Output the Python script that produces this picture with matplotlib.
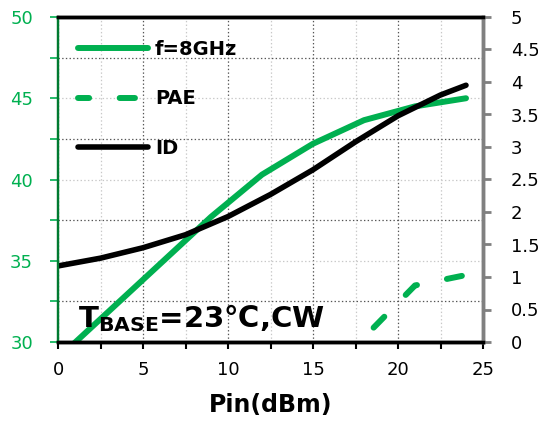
import numpy as np
import matplotlib
matplotlib.use('Agg')
import matplotlib.pyplot as plt
from matplotlib.ticker import MultipleLocator, FuncFormatter

# Data
pin = [0, 3, 6, 9, 12, 15, 18, 21, 24]
pout = [29.0, 31.9, 34.8, 37.7, 40.3, 42.2, 43.65, 44.5, 45.0]   # f=8GHz, left axis
pin_id = [0, 2.5, 5, 7.5, 10, 12.5, 15, 17.5, 20, 22.5, 24]
idrain = [1.17, 1.29, 1.45, 1.65, 1.93, 2.27, 2.65, 3.08, 3.48, 3.8, 3.95]  # ID, right axis
pin_pae = [15, 18, 21, 24]
pae = [-0.75, 0.07, 0.87, 1.03]                                   # PAE, right axis

GREEN = '#00B050'

plt.rcParams['font.family'] = ['DejaVu Sans']
plt.rcParams['lines.scale_dashes'] = False

fig = plt.figure(figsize=(5.38, 4.23), dpi=100)
ax1 = fig.add_axes([58/538, 81/423, 425/538, 325/423])
ax2 = ax1.twinx()

# left axis: output power
l1, = ax1.plot(pin, pout, color=GREEN, lw=4.3, solid_capstyle='round',
               solid_joinstyle='round', label='f=8GHz')
ax1.set_xlim(0, 25)
ax1.set_ylim(30, 50)
ax1.xaxis.set_major_locator(MultipleLocator(5))
ax1.xaxis.set_minor_locator(MultipleLocator(2.5))
ax1.yaxis.set_major_locator(MultipleLocator(5))
ax1.yaxis.set_minor_locator(MultipleLocator(2.5))

# excel style grid: alternating dark / light dotted lines
ax1.grid(which='major', axis='x', color='#555555', ls=':', lw=0.9)
ax1.grid(which='minor', axis='x', color='#c8c8c8', ls=':', lw=0.9)
ax1.grid(which='major', axis='y', color='#c8c8c8', ls=':', lw=0.9)
ax1.grid(which='minor', axis='y', color='#555555', ls=':', lw=0.9)
ax1.set_axisbelow(True)

# right axis: PAE and drain current
l2, = ax2.plot(pin_pae, pae, color=GREEN, lw=4.3, dash_capstyle='round',
               ls=(3, (11, 22)), label='PAE')
l3, = ax2.plot(pin_id, idrain, color='black', lw=4.0, solid_capstyle='round',
               solid_joinstyle='round', label='ID')
ax2.set_ylim(0, 5)
ax2.yaxis.set_major_locator(MultipleLocator(0.5))
ax2.yaxis.set_major_formatter(FuncFormatter(lambda v, p: f'{v:g}'))

# ticks
ax1.tick_params(axis='x', which='both', direction='out', length=5, width=1.5,
                color='black', labelsize=13, pad=9)
ax1.tick_params(axis='y', which='both', direction='out', length=6, width=1.2,
                color=GREEN, labelcolor=GREEN, labelsize=13, pad=12)
ax2.tick_params(axis='y', which='both', direction='out', length=6, width=2,
                color='#808080', labelcolor='black', labelsize=13, pad=14)

# spines
for ax in (ax1, ax2):
    ax.spines['top'].set_color('black')
    ax.spines['top'].set_linewidth(2.5)
    ax.spines['bottom'].set_color('black')
    ax.spines['bottom'].set_linewidth(2.5)
    ax.spines['left'].set_color('#007a30')
    ax.spines['left'].set_linewidth(1.6)
    ax.spines['right'].set_color('#808080')
    ax.spines['right'].set_linewidth(2.5)

ax1.set_xlabel('Pin(dBm)', fontsize=17, fontweight='bold', labelpad=10)

leg = ax1.legend(handles=[l1, l2, l3], loc='upper left', bbox_to_anchor=(0.047, 0.93),
                 frameon=False, borderaxespad=0, borderpad=0, handlelength=3.6,
                 handletextpad=0.35, labelspacing=1.58,
                 prop={'weight': 'bold', 'size': 14})

ax1.text(0.047, 0.046, r'$\mathbf{T_{BASE}}$=23℃,CW', transform=ax1.transAxes,
         fontsize=21, fontweight='bold', ha='left', va='baseline', zorder=5)

fig.savefig('out.png', dpi=100)
